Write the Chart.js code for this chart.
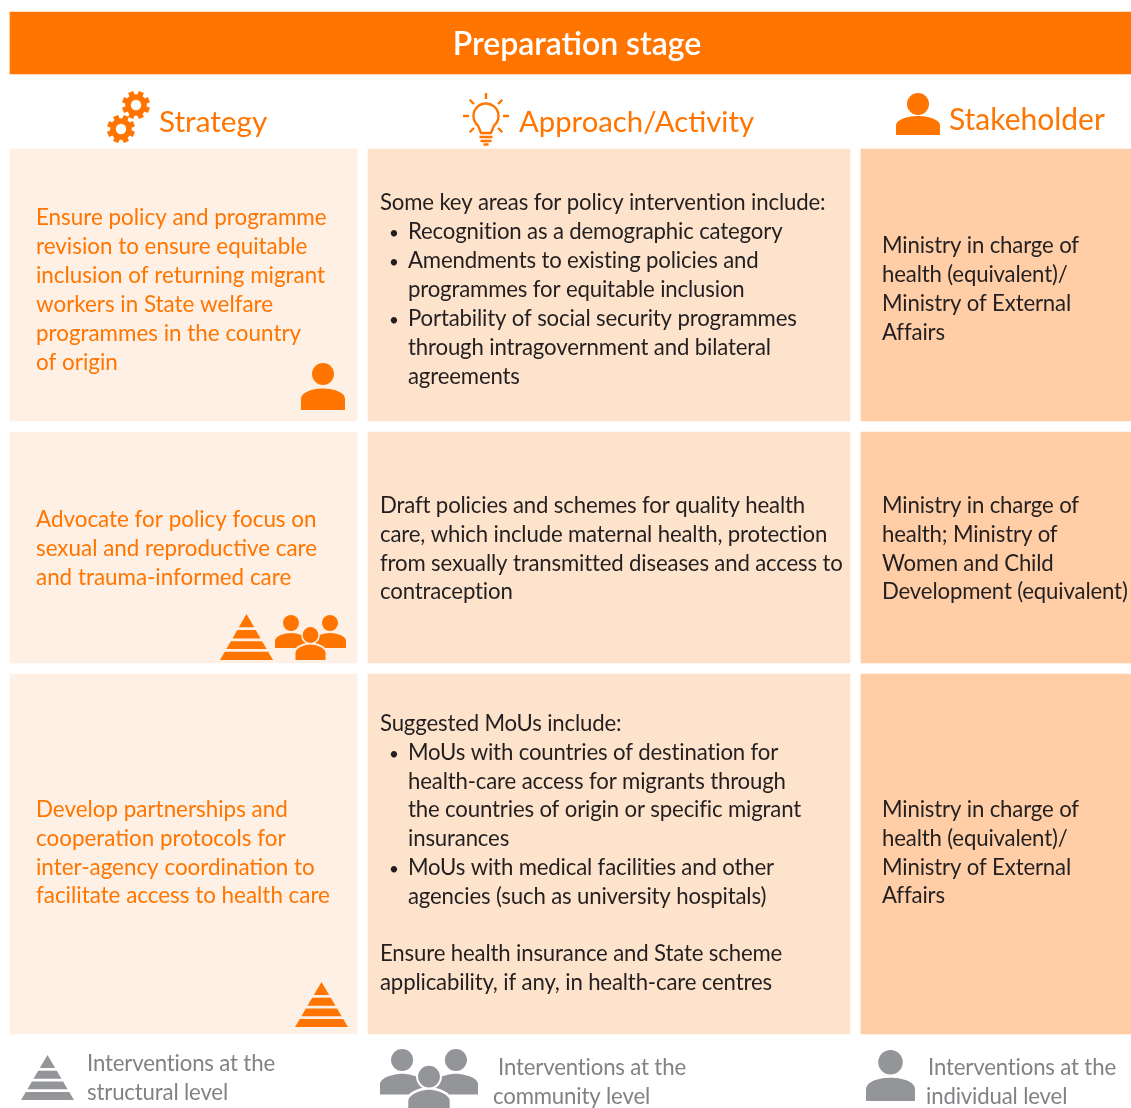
<!DOCTYPE html>
<html>
<head>
<meta charset="utf-8">
<title>Preparation stage</title>
<script src="https://cdn.jsdelivr.net/npm/chart.js@4/dist/chart.umd.js"></script>
<style>
  html, body { margin: 0; padding: 0; background: #fff; }
  canvas { display: block; }
</style>
</head>
<body>
<canvas id="stageChart" width="1131" height="1108"></canvas>
<script>
var stageTitle = "Preparation stage";
var columnNames = ["Strategy", "Approach/Activity", "Stakeholder"];

var strategyText = [
  ["Ensure policy and programme", "revision to ensure equitable", "inclusion of returning migrant", "workers in State welfare", "programmes in the country", "of origin"],
  ["Advocate for policy focus on", "sexual and reproductive care", "and trauma-informed care"],
  ["Develop partnerships and", "cooperation protocols for", "inter-agency coordination to", "facilitate access to health care"]
];

// leading "* " marks a bullet, leading "> " a continuation of a bullet
var approachText = [
  ["Some key areas for policy intervention include:", "* Recognition as a demographic category", "* Amendments to existing policies and", "> programmes for equitable inclusion", "* Portability of social security programmes", "> through intragovernment and bilateral", "> agreements"],
  ["Draft policies and schemes for quality health", "care, which include maternal health, protection", "from sexually transmitted diseases and access to", "contraception"],
  ["Suggested MoUs include:", "* MoUs with countries of destination for", "> health-care access for migrants through", "> the countries of origin or specific migrant", "> insurances", "* MoUs with medical facilities and other", "> agencies (such as university hospitals)", "", "Ensure health insurance and State scheme", "applicability, if any, in health-care centres"]
];

var stakeholderText = [
  ["Ministry in charge of", "health (equivalent)/", "Ministry of External", "Affairs"],
  ["Ministry in charge of", "health; Ministry of", "Women and Child", "Development (equivalent)"],
  ["Ministry in charge of", "health (equivalent)/", "Ministry of External", "Affairs"]
];

var levelText = [
  ["Interventions at the", "structural level"],
  ["Interventions at the", "community level"],
  ["Interventions at the", "individual level"]
];

// layout, in page pixels (the axes run 0..1131 and 0..1108)
var columnEdges = [[10, 357], [368, 850], [861, 1131]];
var rowEdges = [[149, 421], [432, 663], [674, 1034]];
var columnFills = ["#fff0e5", "#fde3cc", "#ffcea6"];
var ORANGE = "#ff7500";
var INK = "#231f20";
var GREY_TEXT = "#808285";
var GREY_ICON = "#939598";

var strategyY = [225, 527, 817];
var approachY = [210, 513, 731];
var stakeholderY = [253, 513, 817];
var lineSteps = [29, 28.8, 28.8];

function bandDataset(xEdges, yEdges, color) {
  return {
    data: [{ x: xEdges, y: (yEdges[0] + yEdges[1]) / 2 }],
    backgroundColor: color,
    barThickness: yEdges[1] - yEdges[0],
    borderWidth: 0,
    borderSkipped: false,
    grouped: false
  };
}

var datasets = [bandDataset([10, 1131], [12, 74], ORANGE)];
for (var r = 0; r < rowEdges.length; r++) {
  for (var c = 0; c < columnEdges.length; c++) {
    datasets.push(bandDataset(columnEdges[c], rowEdges[r], columnFills[c]));
  }
}

function drawText(ctx, text, x, y, font, color, spacing) {
  ctx.font = font;
  ctx.fillStyle = color;
  ctx.letterSpacing = (spacing || 0) + "px";
  ctx.fillText(text, x, y);
  ctx.letterSpacing = "0px";
}

function person(ctx, x, y, w, h, color) {
  // x, y is the top left of the icon box
  var r = w * 0.25;
  ctx.fillStyle = color;
  ctx.beginPath();
  ctx.arc(x + w / 2, y + r, r, 0, Math.PI * 2);
  ctx.fill();
  var top = y + h * 0.545;
  var bottom = y + h;
  ctx.beginPath();
  ctx.moveTo(x, bottom);
  ctx.lineTo(x, top + (bottom - top) * 0.5);
  ctx.bezierCurveTo(x, top + 3, x + w * 0.3, top, x + w / 2, top);
  ctx.bezierCurveTo(x + w * 0.7, top, x + w, top + 3, x + w, top + (bottom - top) * 0.5);
  ctx.lineTo(x + w, bottom);
  ctx.closePath();
  ctx.fill();
}

function group(ctx, x, y, s, color, gapColor) {
  // drawn on a 71 x 45 box, scaled by s
  ctx.save();
  ctx.translate(x, y);
  ctx.scale(s, s);
  person(ctx, 0, 0, 32, 33, color);
  person(ctx, 39, 0, 32, 33, color);
  ctx.fillStyle = gapColor;
  ctx.beginPath();
  ctx.arc(35.5, 20, 9.4, 0, Math.PI * 2);
  ctx.fill();
  ctx.beginPath();
  ctx.moveTo(18.5, 46);
  ctx.lineTo(18.5, 37);
  ctx.bezierCurveTo(20, 31, 29, 27.5, 35.5, 27.5);
  ctx.bezierCurveTo(42, 27.5, 51, 31, 52.5, 37);
  ctx.lineTo(52.5, 46);
  ctx.closePath();
  ctx.fill();
  ctx.fillStyle = color;
  ctx.beginPath();
  ctx.arc(35.5, 20, 7.9, 0, Math.PI * 2);
  ctx.fill();
  ctx.beginPath();
  ctx.moveTo(20.5, 45);
  ctx.lineTo(20.5, 37.5);
  ctx.bezierCurveTo(21, 32.5, 30, 29.5, 35.5, 29.5);
  ctx.bezierCurveTo(41, 29.5, 50, 32.5, 50.5, 37.5);
  ctx.lineTo(50.5, 45);
  ctx.closePath();
  ctx.fill();
  ctx.restore();
}

function pyramid(ctx, x, y, w, h, color) {
  var bands = [[0, 0.29], [0.35, 0.53], [0.59, 0.76], [0.82, 1]];
  ctx.fillStyle = color;
  for (var i = 0; i < bands.length; i++) {
    var t = bands[i][0];
    var b = bands[i][1];
    var mid = x + w / 2;
    ctx.beginPath();
    ctx.moveTo(mid - (w / 2) * t, y + h * t);
    ctx.lineTo(mid + (w / 2) * t, y + h * t);
    ctx.lineTo(mid + (w / 2) * b, y + h * b);
    ctx.lineTo(mid - (w / 2) * b, y + h * b);
    ctx.closePath();
    ctx.fill();
  }
}

function gear(ctx, cx, cy, color) {
  ctx.fillStyle = color;
  ctx.strokeStyle = color;
  ctx.beginPath();
  ctx.arc(cx, cy, 10.8, 0, Math.PI * 2);
  ctx.fill();
  ctx.lineWidth = 5.5;
  for (var i = 0; i < 8; i++) {
    var a = (i * Math.PI) / 4 + Math.PI / 8;
    ctx.beginPath();
    ctx.moveTo(cx + Math.cos(a) * 8, cy + Math.sin(a) * 8);
    ctx.lineTo(cx + Math.cos(a) * 14, cy + Math.sin(a) * 14);
    ctx.stroke();
  }
  ctx.fillStyle = "#fff";
  ctx.beginPath();
  ctx.arc(cx, cy, 5.2, 0, Math.PI * 2);
  ctx.fill();
}

function bulb(ctx, cx, cy, color) {
  ctx.strokeStyle = color;
  ctx.lineWidth = 2.4;
  ctx.beginPath();
  ctx.arc(cx, cy, 12.5, Math.PI * 0.72, Math.PI * 0.28);
  ctx.lineTo(cx + 5, cy + 17);
  ctx.lineTo(cx - 5, cy + 17);
  ctx.closePath();
  ctx.stroke();
  var rays = [-90, -45, -135, 0, 180, 45, 135];
  for (var i = 0; i < rays.length; i++) {
    var a = (rays[i] * Math.PI) / 180;
    ctx.beginPath();
    ctx.moveTo(cx + Math.cos(a) * 17, cy + Math.sin(a) * 17);
    ctx.lineTo(cx + Math.cos(a) * 23, cy + Math.sin(a) * 23);
    ctx.stroke();
  }
  ctx.beginPath();
  ctx.moveTo(cx - 6.5, cy + 21);
  ctx.lineTo(cx + 6.5, cy + 21);
  ctx.moveTo(cx - 5.5, cy + 25);
  ctx.lineTo(cx + 5.5, cy + 25);
  ctx.moveTo(cx - 2.5, cy + 28.5);
  ctx.lineTo(cx + 2.5, cy + 28.5);
  ctx.stroke();
}

var tablePlugin = {
  id: "stageTable",
  afterDatasetsDraw: function (chart) {
    var ctx = chart.ctx;
    var px = function (v) { return chart.scales.x.getPixelForValue(v); };
    var py = function (v) { return chart.scales.y.getPixelForValue(v); };
    var body = "22.2px Lato";
    var orangeBody = "22.4px Lato";
    var tight = -0.16;
    var i, j;

    ctx.save();
    ctx.textBaseline = "alphabetic";

    ctx.textAlign = "center";
    drawText(ctx, stageTitle, px(577), py(55), "600 32px Lato", "#fff", 0);
    ctx.textAlign = "left";

    drawText(ctx, columnNames[0], px(159), py(132), "29.7px Lato", ORANGE, 0);
    drawText(ctx, columnNames[1], px(519), py(132), "29.3px Lato", ORANGE, 0);
    drawText(ctx, columnNames[2], px(949), py(130), "30px Lato", ORANGE, 0);

    gear(ctx, px(136), py(105), ORANGE);
    gear(ctx, px(121), py(129), ORANGE);
    bulb(ctx, px(486), py(116), ORANGE);
    person(ctx, px(896), py(93), 44, 42, ORANGE);

    for (i = 0; i < strategyText.length; i++) {
      var step = lineSteps[i];
      for (j = 0; j < strategyText[i].length; j++) {
        drawText(ctx, strategyText[i][j], px(36), py(strategyY[i] + j * step), orangeBody, ORANGE, 0);
      }
      for (j = 0; j < stakeholderText[i].length; j++) {
        drawText(ctx, stakeholderText[i][j], px(882), py(stakeholderY[i] + j * step), body, INK, tight);
      }
      for (j = 0; j < approachText[i].length; j++) {
        var line = approachText[i][j];
        var y = py(approachY[i] + j * step);
        if (line.indexOf("* ") === 0) {
          drawText(ctx, "\u2022", px(389), y, "17px Lato", INK, 0);
          drawText(ctx, line.slice(2), px(408), y, body, INK, tight);
        } else if (line.indexOf("> ") === 0) {
          drawText(ctx, line.slice(2), px(408), y, body, INK, tight);
        } else {
          drawText(ctx, line, px(380), y, body, INK, tight);
        }
      }
    }

    person(ctx, px(301), py(363), 44, 47, ORANGE);
    pyramid(ctx, px(220), py(614), 53, 46, ORANGE);
    group(ctx, px(275), py(615), 1, ORANGE, columnFills[0]);
    pyramid(ctx, px(295), py(982), 53, 45, ORANGE);

    pyramid(ctx, px(21), py(1055), 53, 45, GREY_ICON);
    group(ctx, px(380), py(1049), 1.38, GREY_ICON, "#fff");
    person(ctx, px(866), py(1050), 49, 51, GREY_ICON);

    drawText(ctx, levelText[0][0], px(87), py(1071), body, GREY_TEXT, tight);
    drawText(ctx, levelText[0][1], px(87), py(1100), body, GREY_TEXT, tight);
    drawText(ctx, levelText[1][0], px(498), py(1075), body, GREY_TEXT, tight);
    drawText(ctx, levelText[1][1], px(493), py(1104), body, GREY_TEXT, tight);
    drawText(ctx, levelText[2][0], px(928), py(1075), body, GREY_TEXT, tight);
    drawText(ctx, levelText[2][1], px(926), py(1104), body, GREY_TEXT, tight);

    ctx.restore();
  }
};

new Chart(document.getElementById("stageChart").getContext("2d"), {
  type: "bar",
  data: { datasets: datasets },
  options: {
    indexAxis: "y",
    responsive: false,
    animation: false,
    layout: { padding: 0 },
    plugins: { legend: { display: false }, tooltip: { enabled: false } },
    scales: {
      x: { type: "linear", display: false, min: 0, max: 1131, offset: false },
      y: { type: "linear", display: false, min: 0, max: 1108, reverse: true, offset: false }
    }
  },
  plugins: [tablePlugin]
});
</script>
</body>
</html>
